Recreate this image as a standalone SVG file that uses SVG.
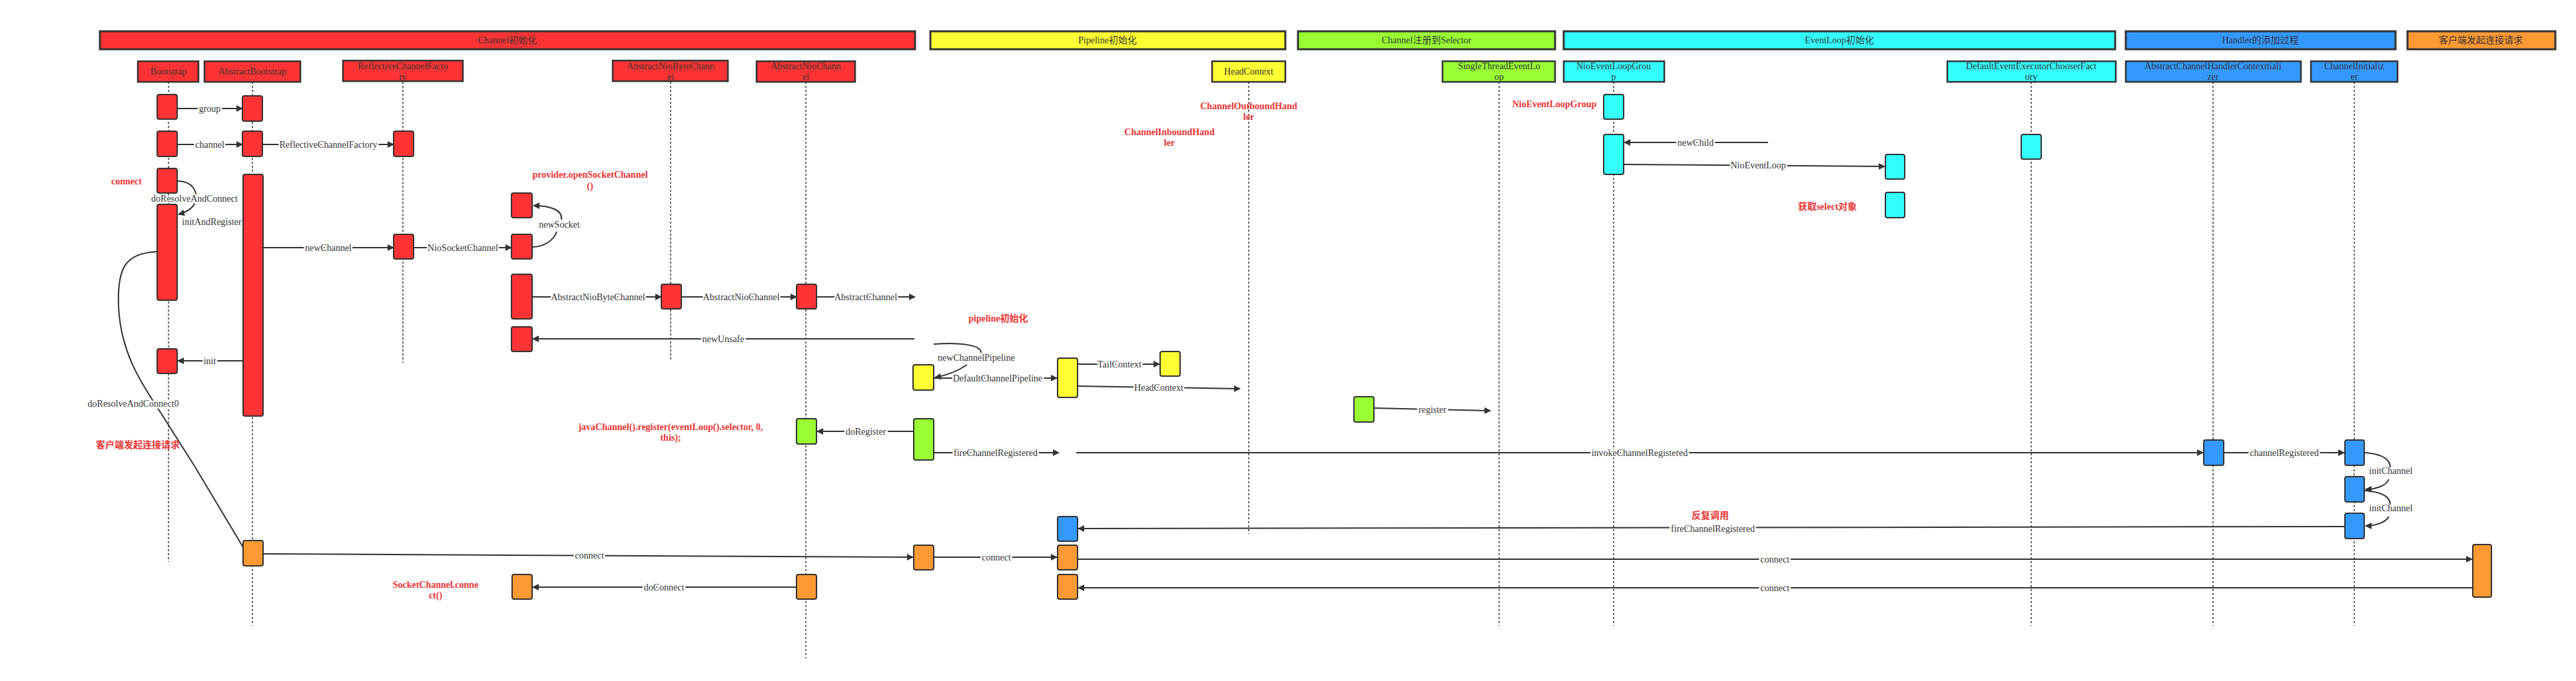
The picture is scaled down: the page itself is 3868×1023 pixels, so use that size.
<svg xmlns="http://www.w3.org/2000/svg" width="3868" height="1023" viewBox="0 0 3868 1023">
<style>
text{font-family:"Liberation Serif","Noto Sans CJK SC",serif;fill:#333;font-size:14px;text-anchor:middle}
.band{stroke:#333;stroke-width:3}
.hd{stroke:#333;stroke-width:2.5}
.act{stroke:#333;stroke-width:2}
.life{stroke:#333;stroke-width:1.5;stroke-dasharray:3,3;fill:none}
.c{stroke:#333;stroke-width:2;fill:none}
.a{marker-end:url(#ar)}
.lbl{paint-order:stroke;stroke:#fff;stroke-width:5px;stroke-linejoin:round}
.red{fill:#EE3333;font-weight:bold}
.r{fill:#FF3333}.y{fill:#FFFF33}.g{fill:#99FF33}.cy{fill:#33FFFF}.b{fill:#3399FF}.o{fill:#FF9933}
</style>
<defs><marker id="ar" markerWidth="10" markerHeight="10" refX="9" refY="5" orient="auto" markerUnits="userSpaceOnUse"><path d="M0,0 L10,5 L0,10 z" fill="#333"/></marker></defs>
<rect width="3868" height="1023" fill="#fff"/>
<g id="bands">
<rect class="band r" x="150" y="47" width="1224" height="27"/><text x="762" y="65">Channel初始化</text>
<rect class="band y" x="1397" y="47" width="533" height="27"/><text x="1663" y="65">Pipeline初始化</text>
<rect class="band g" x="1949" y="47" width="386" height="27"/><text x="2142" y="65">Channel注册到Selector</text>
<rect class="band cy" x="2348" y="47" width="828" height="27"/><text x="2762" y="65">EventLoop初始化</text>
<rect class="band b" x="3192" y="47" width="405" height="27"/><text x="3394" y="65">Handler的添加过程</text>
<rect class="band o" x="3615" y="47" width="222" height="27"/><text x="3725" y="65">客户端发起连接请求</text>
</g>
<g id="lifelines">
<line class="life" x1="253" y1="123" x2="253" y2="844"/>
<line class="life" x1="379" y1="123" x2="379" y2="940"/>
<line class="life" x1="605" y1="123" x2="605" y2="545"/>
<line class="life" x1="1007" y1="123" x2="1007" y2="543"/>
<line class="life" x1="1210" y1="123" x2="1210" y2="989"/>
<line class="life" x1="1875" y1="123" x2="1875" y2="802"/>
<line class="life" x1="2251" y1="123" x2="2251" y2="940"/>
<line class="life" x1="2423" y1="123" x2="2423" y2="940"/>
<line class="life" x1="3050" y1="123" x2="3050" y2="940"/>
<line class="life" x1="3323" y1="123" x2="3323" y2="940"/>
<line class="life" x1="3535" y1="123" x2="3535" y2="940"/>
</g>
<g id="connectors">
<line class="c a" x1="265" y1="163" x2="364" y2="163"/><text class="lbl" x="315" y="168">group</text>
<line class="c a" x1="265" y1="217" x2="364" y2="217"/><text class="lbl" x="315" y="222">channel</text>
<line class="c a" x1="395" y1="217" x2="591" y2="217"/><text class="lbl" x="493" y="222">ReflectiveChannelFactory</text>
<path class="c a" d="M266,272 C290,272 296,288 294,300 C292,312 282,318 268,322"/><text class="lbl" x="292" y="303">doResolveAndConnect</text>
<text class="lbl" x="318" y="338">initAndRegister</text>
<line class="c a" x1="395" y1="372" x2="591" y2="372"/><text class="lbl" x="493" y="377">newChannel</text>
<line class="c a" x1="621" y1="372" x2="768" y2="372"/><text class="lbl" x="695" y="377">NioSocketChannel</text>
<path class="c" d="M799,371 C818,371 832,360 836,348"/><text x="840" y="342">newSocket</text>
<path class="c a" d="M843,330 C845,316 828,309 801,309"/>
<line class="c a" x1="799" y1="446" x2="993" y2="446"/><text class="lbl" x="898" y="451">AbstractNioByteChannel</text>
<line class="c a" x1="1023" y1="446" x2="1196" y2="446"/><text class="lbl" x="1113" y="451">AbstractNioChannel</text>
<line class="c a" x1="1226" y1="446" x2="1374" y2="446"/><text class="lbl" x="1300" y="451">AbstractChannel</text>
<line class="c a" x1="1373" y1="509" x2="800" y2="509"/><text class="lbl" x="1086" y="514">newUnsafe</text>
<line class="c a" x1="365" y1="542" x2="267" y2="542"/><text class="lbl" x="315" y="547">init</text>
<path class="c" d="M236,378 C186,380 176,405 178,460 C181,530 212,575 240,618 L292,700 L365,822"/><text class="lbl" x="200" y="611">doResolveAndConnect0</text>
<path class="c a" d="M395,832 L1371,837"/><text class="lbl" x="885" y="839">connect</text>
<line class="c a" x1="1402" y1="837" x2="1587" y2="837"/><text class="lbl" x="1496" y="842">connect</text>
<line class="c a" x1="1196" y1="882" x2="800" y2="882"/><text class="lbl" x="997" y="887">doConnect</text>
<path class="c" d="M1402,517 C1440,514 1474,518 1473,530"/><text x="1466" y="542">newChannelPipeline</text>
<path class="c a" d="M1452,548 C1440,556 1422,564 1404,567"/>
<line class="c a" x1="1402" y1="568" x2="1587" y2="568"/><text class="lbl" x="1498" y="573">DefaultChannelPipeline</text>
<line class="c a" x1="1618" y1="547" x2="1741" y2="547"/><text class="lbl" x="1681" y="552">TailContext</text>
<path class="c a" d="M1618,580 L1862,584"/><text class="lbl" x="1740" y="587">HeadContext</text>
<line class="c a" x1="1372" y1="648" x2="1227" y2="648"/><text class="lbl" x="1300" y="653">doRegister</text>
<line class="c a" x1="1402" y1="680" x2="1590" y2="680"/><text class="lbl" x="1495" y="685">fireChannelRegistered</text>
<line class="c a" x1="1616" y1="680" x2="3308" y2="680"/><text class="lbl" x="2462" y="685">invokeChannelRegistered</text>
<line class="c a" x1="3339" y1="680" x2="3520" y2="680"/><text class="lbl" x="3430" y="685">channelRegistered</text>
<path class="c" d="M3550,680 C3578,682 3589,690 3589,702"/><text x="3590" y="712">initChannel</text>
<path class="c a" d="M3587,720 C3583,730 3567,735 3552,735"/>
<path class="c" d="M3550,737 C3578,739 3589,747 3589,758"/><text x="3590" y="768">initChannel</text>
<path class="c a" d="M3587,776 C3582,785 3567,790 3552,790"/>
<path class="c a" d="M3521,791 L1619,794"/><text class="lbl" x="2572" y="799">fireChannelRegistered</text>
<text class="red" x="2568" y="779">反复调用</text>
<path class="c a" d="M2063,613 L2238,617"/><text class="lbl" x="2151" y="620">register</text>
<line class="c a" x1="2655" y1="214" x2="2439" y2="214"/><text class="lbl" x="2546" y="219">newChild</text>
<path class="c a" d="M2438,247 L2830,250"/><text class="lbl" x="2640" y="253">NioEventLoop</text>
<line class="c a" x1="1618" y1="840" x2="3712" y2="840"/><text class="lbl" x="2665" y="845">connect</text>
<line class="c a" x1="3713" y1="883" x2="1619" y2="883"/><text class="lbl" x="2665" y="888">connect</text>
</g>
<g id="Bootstrap"><rect class="hd r" x="207" y="92" width="91" height="31"/><text x="253" y="112">Bootstrap</text></g>
<g id="AbstractBootstrap"><rect class="hd r" x="307" y="92" width="144" height="31"/><text x="379" y="112">AbstractBootstrap</text></g>
<g id="ReflectiveChannelFactory"><rect class="hd r" x="515" y="91" width="180" height="31"/><text x="605" y="104">ReflectiveChannelFacto</text><text x="605" y="120">ry</text></g>
<g id="AbstractNioByteChannel"><rect class="hd r" x="920" y="91" width="173" height="31"/><text x="1007" y="104">AbstractNioByteChann</text><text x="1007" y="120">el</text></g>
<g id="AbstractNioChannel"><rect class="hd r" x="1136" y="92" width="148" height="31"/><text x="1210" y="104">AbstractNioChann</text><text x="1210" y="120">el</text></g>
<g id="HeadContext"><rect class="hd y" x="1820" y="92" width="110" height="31"/><text x="1875" y="112">HeadContext</text></g>
<g id="SingleThreadEventLoop"><rect class="hd g" x="2166" y="92" width="169" height="31"/><text x="2251" y="104">SingleThreadEventLo</text><text x="2251" y="120">op</text></g>
<g id="NioEventLoopGroup"><rect class="hd cy" x="2348" y="92" width="151" height="31"/><text x="2423" y="104">NioEventLoopGrou</text><text x="2423" y="120">p</text></g>
<g id="DefaultEventExecutorChooserFactory"><rect class="hd cy" x="2924" y="92" width="253" height="31"/><text x="3050" y="104">DefaultEventExecutorChooserFact</text><text x="3050" y="120">ory</text></g>
<g id="AbstractChannelHandlerContexttializer"><rect class="hd b" x="3192" y="92" width="263" height="31"/><text x="3323" y="104">AbstractChannelHandlerContexttiali</text><text x="3323" y="120">zer</text></g>
<g id="ChannelInitializer"><rect class="hd b" x="3470" y="92" width="130" height="31"/><text x="3535" y="104">ChannelInitializ</text><text x="3535" y="120">er</text></g>
<g id="activations">
<rect class="act r" x="236" y="142" width="30" height="37" rx="3"/>
<rect class="act r" x="364" y="144" width="30" height="38" rx="3"/>
<rect class="act r" x="236" y="197" width="30" height="38" rx="3"/>
<rect class="act r" x="364" y="197" width="30" height="38" rx="3"/>
<rect class="act r" x="591" y="197" width="30" height="38" rx="3"/>
<rect class="act r" x="236" y="253" width="30" height="37" rx="3"/>
<rect class="act r" x="236" y="307" width="30" height="144" rx="3"/>
<rect class="act r" x="365" y="262" width="30" height="363" rx="3"/>
<rect class="act r" x="591" y="352" width="30" height="37" rx="3"/>
<rect class="act r" x="768" y="290" width="31" height="37" rx="3"/>
<rect class="act r" x="768" y="352" width="31" height="37" rx="3"/>
<rect class="act r" x="768" y="412" width="31" height="67" rx="3"/>
<rect class="act r" x="768" y="491" width="31" height="37" rx="3"/>
<rect class="act r" x="993" y="427" width="30" height="37" rx="3"/>
<rect class="act r" x="1196" y="427" width="30" height="37" rx="3"/>
<rect class="act r" x="236" y="524" width="30" height="37" rx="3"/>
<rect class="act y" x="1371" y="548" width="31" height="38" rx="3"/>
<rect class="act y" x="1588" y="538" width="30" height="59" rx="3"/>
<rect class="act y" x="1742" y="528" width="30" height="37" rx="3"/>
<rect class="act g" x="1196" y="629" width="30" height="38" rx="3"/>
<rect class="act g" x="1372" y="629" width="30" height="62" rx="3"/>
<rect class="act g" x="2033" y="596" width="30" height="38" rx="3"/>
<rect class="act cy" x="2408" y="142" width="30" height="37" rx="3"/>
<rect class="act cy" x="2408" y="202" width="30" height="60" rx="3"/>
<rect class="act cy" x="3035" y="202" width="30" height="37" rx="3"/>
<rect class="act cy" x="2831" y="232" width="29" height="37" rx="3"/>
<rect class="act cy" x="2831" y="289" width="29" height="38" rx="3"/>
<rect class="act b" x="3309" y="661" width="30" height="38" rx="3"/>
<rect class="act b" x="3521" y="661" width="29" height="38" rx="3"/>
<rect class="act b" x="3521" y="716" width="29" height="38" rx="3"/>
<rect class="act b" x="3521" y="771" width="29" height="38" rx="3"/>
<rect class="act b" x="1588" y="776" width="30" height="37" rx="3"/>
<rect class="act o" x="365" y="812" width="30" height="38" rx="3"/>
<rect class="act o" x="1372" y="819" width="30" height="37" rx="3"/>
<rect class="act o" x="1588" y="819" width="30" height="37" rx="3"/>
<rect class="act o" x="1588" y="863" width="30" height="37" rx="3"/>
<rect class="act o" x="1196" y="863" width="30" height="37" rx="3"/>
<rect class="act o" x="769" y="863" width="30" height="37" rx="3"/>
<rect class="act o" x="3713" y="818" width="28" height="79" rx="3"/>
</g>
<g id="notes">
<text class="red" x="190" y="277">connect</text>
<text class="red" x="886" y="267">provider.openSocketChannel</text><text class="red" x="886" y="284">()</text>
<text class="red" x="1875" y="164">ChannelOutboundHand</text><text class="red" x="1875" y="180">ler</text>
<text class="red" x="1756" y="203">ChannelInboundHand</text><text class="red" x="1756" y="219">ler</text>
<text class="red" x="2334" y="161" style="text-anchor:middle">NioEventLoopGroup</text>
<text class="red" x="2744" y="315">获取select对象</text>
<text class="red" x="1499" y="483">pipeline初始化</text>
<text class="red" x="1007" y="646">javaChannel().register(eventLoop().selector, 0,</text><text class="red" x="1007" y="662">this);</text>
<text class="red" x="207" y="673">客户端发起连接请求</text>
<text class="red" x="654" y="883">SocketChannel.conne</text><text class="red" x="654" y="899">ct()</text>
</g>
</svg>
